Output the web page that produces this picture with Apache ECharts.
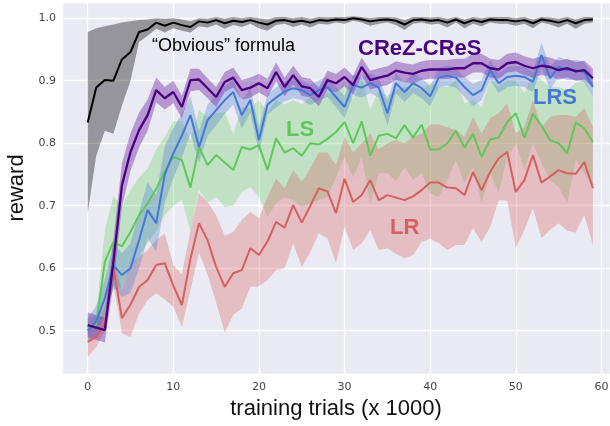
<!DOCTYPE html>
<html>
<head>
<meta charset="utf-8">
<script src="https://cdn.jsdelivr.net/npm/echarts@6/dist/echarts.min.js"></script>
<style>
  html, body { margin: 0; padding: 0; background: #fff; }
  #chart { width: 610px; height: 426px; }
</style>
</head>
<body>
<div id="chart"></div>
<script>
// x positions (training trials, x 1000)
const trials = [0,1,2,3,4,5,6,7,8,9,10,11,12,13,14,15,16,17,18,19,
  20,21,22,23,24,25,26,27,28,29,30,31,32,33,34,35,36,37,38,39,
  40,41,42,43,44,45,46,47,48,49,50,51,52,53,54,55,56,57,58,59];

// "Obvious" formula
const obvMean = [0.833,0.889,0.901,0.900,0.934,0.946,0.978,0.982,0.993,0.988,
  0.993,0.989,0.986,0.995,0.993,0.997,0.992,0.996,0.994,0.997,
  0.993,0.990,0.996,0.997,0.994,0.996,0.993,0.997,0.996,0.998,
  0.997,1.000,0.998,0.995,0.997,0.998,0.996,0.990,0.997,0.998,
  0.996,0.997,0.993,0.998,0.992,0.997,0.994,0.998,0.997,0.997,
  0.995,0.997,0.992,0.998,0.996,0.993,0.997,0.992,0.997,0.998];
const obvLow = [0.688,0.780,0.820,0.815,0.860,0.900,0.962,0.972,0.983,0.977,
  0.984,0.980,0.977,0.987,0.985,0.990,0.983,0.989,0.986,0.991,
  0.984,0.980,0.989,0.991,0.986,0.990,0.985,0.991,0.990,0.993,
  0.991,0.996,0.993,0.988,0.991,0.993,0.989,0.981,0.991,0.993,
  0.990,0.991,0.985,0.993,0.984,0.991,0.987,0.993,0.991,0.991,
  0.988,0.991,0.984,0.993,0.990,0.985,0.991,0.983,0.991,0.993];
const obvHigh = [0.978,0.984,0.987,0.990,0.993,0.995,0.997,0.998,1.000,0.999,
  1.000,0.998,0.995,1.000,0.999,1.002,0.999,1.002,1.000,1.002,
  1.000,0.998,1.002,1.002,1.000,1.002,0.999,1.002,1.001,1.002,
  1.002,1.003,1.002,1.000,1.002,1.002,1.001,0.997,1.002,1.002,
  1.001,1.002,0.999,1.002,0.998,1.002,1.000,1.002,1.002,1.002,
  1.000,1.002,0.998,1.002,1.001,0.999,1.002,0.998,1.002,1.002];

// CReZ-CReS
const crezMean = [0.509,0.505,0.501,0.610,0.733,0.786,0.821,0.845,0.885,0.872,
  0.882,0.858,0.901,0.902,0.888,0.874,0.898,0.905,0.885,0.889,
  0.896,0.888,0.914,0.890,0.909,0.891,0.888,0.874,0.901,0.896,
  0.906,0.893,0.922,0.901,0.905,0.908,0.916,0.913,0.911,0.916,
  0.918,0.918,0.918,0.920,0.920,0.928,0.928,0.920,0.918,0.928,
  0.930,0.924,0.920,0.924,0.922,0.917,0.920,0.915,0.917,0.904];
const crezLow = [0.489,0.485,0.481,0.575,0.698,0.756,0.793,0.820,0.865,0.854,
  0.864,0.840,0.883,0.885,0.872,0.858,0.882,0.889,0.869,0.873,
  0.881,0.873,0.899,0.875,0.894,0.876,0.873,0.859,0.886,0.881,
  0.891,0.878,0.907,0.886,0.890,0.893,0.901,0.898,0.896,0.901,
  0.903,0.903,0.903,0.905,0.905,0.913,0.913,0.905,0.903,0.913,
  0.915,0.909,0.905,0.909,0.907,0.902,0.905,0.900,0.902,0.889];
const crezHigh = [0.529,0.525,0.521,0.645,0.768,0.816,0.849,0.870,0.905,0.890,
  0.900,0.876,0.919,0.919,0.904,0.890,0.914,0.921,0.901,0.905,
  0.911,0.903,0.929,0.905,0.924,0.906,0.903,0.889,0.916,0.911,
  0.921,0.908,0.937,0.916,0.920,0.923,0.931,0.928,0.926,0.931,
  0.933,0.933,0.933,0.935,0.935,0.943,0.943,0.935,0.933,0.943,
  0.945,0.939,0.935,0.939,0.937,0.932,0.935,0.930,0.932,0.919];

// LRS
const lrsMean = [0.500,0.515,0.552,0.605,0.589,0.600,0.645,0.693,0.672,0.750,
  0.784,0.812,0.845,0.794,0.837,0.853,0.869,0.882,0.845,0.869,
  0.805,0.862,0.873,0.883,0.888,0.885,0.877,0.885,0.890,0.874,
  0.858,0.893,0.889,0.896,0.889,0.848,0.896,0.882,0.896,0.888,
  0.875,0.905,0.908,0.905,0.890,0.877,0.885,0.917,0.896,0.906,
  0.908,0.906,0.898,0.941,0.904,0.922,0.917,0.917,0.914,0.890];
const lrsLow = [0.480,0.490,0.522,0.570,0.554,0.560,0.600,0.648,0.627,0.705,
  0.744,0.777,0.815,0.769,0.812,0.828,0.847,0.862,0.823,0.849,
  0.785,0.846,0.857,0.867,0.872,0.869,0.861,0.869,0.874,0.858,
  0.840,0.877,0.873,0.880,0.873,0.828,0.880,0.866,0.880,0.872,
  0.859,0.889,0.892,0.889,0.874,0.859,0.869,0.901,0.880,0.890,
  0.892,0.890,0.882,0.921,0.886,0.906,0.901,0.901,0.898,0.874];
const lrsHigh = [0.520,0.540,0.582,0.640,0.624,0.640,0.690,0.738,0.717,0.795,
  0.824,0.847,0.875,0.819,0.862,0.878,0.891,0.902,0.867,0.889,
  0.825,0.878,0.889,0.899,0.904,0.901,0.893,0.901,0.906,0.890,
  0.876,0.909,0.905,0.912,0.905,0.868,0.912,0.898,0.912,0.904,
  0.891,0.921,0.924,0.921,0.906,0.895,0.901,0.933,0.912,0.922,
  0.924,0.922,0.914,0.961,0.922,0.938,0.933,0.933,0.930,0.906];

// LS
const lsMean = [0.504,0.509,0.610,0.642,0.635,0.658,0.685,0.704,0.727,0.755,
  0.778,0.773,0.729,0.794,0.765,0.781,0.769,0.757,0.794,0.790,
  0.797,0.757,0.808,0.785,0.792,0.780,0.800,0.798,0.807,0.818,
  0.834,0.800,0.835,0.780,0.812,0.815,0.808,0.829,0.809,0.830,
  0.790,0.790,0.800,0.820,0.793,0.815,0.778,0.806,0.809,0.834,
  0.848,0.809,0.847,0.828,0.805,0.800,0.784,0.833,0.824,0.802];
const lsLow = [0.495,0.500,0.525,0.565,0.570,0.600,0.620,0.640,0.660,0.685,
  0.700,0.710,0.660,0.725,0.705,0.714,0.698,0.700,0.722,0.730,
  0.714,0.682,0.704,0.714,0.709,0.698,0.704,0.709,0.714,0.745,
  0.778,0.745,0.778,0.704,0.752,0.752,0.740,0.762,0.741,0.752,
  0.720,0.714,0.741,0.773,0.736,0.762,0.704,0.752,0.722,0.778,
  0.800,0.757,0.800,0.768,0.741,0.730,0.704,0.773,0.752,0.730];
const lsHigh = [0.518,0.525,0.660,0.715,0.700,0.725,0.745,0.760,0.790,0.810,
  0.835,0.835,0.805,0.853,0.842,0.848,0.850,0.815,0.858,0.855,
  0.869,0.850,0.869,0.862,0.869,0.862,0.874,0.869,0.880,0.880,
  0.900,0.870,0.905,0.853,0.885,0.875,0.885,0.890,0.890,0.885,
  0.896,0.890,0.890,0.901,0.864,0.869,0.858,0.901,0.890,0.901,
  0.900,0.880,0.912,0.901,0.890,0.890,0.885,0.896,0.901,0.874];

// LR
const lrMean = [0.482,0.490,0.512,0.601,0.520,0.542,0.570,0.581,0.605,0.608,
  0.572,0.541,0.615,0.672,0.645,0.602,0.570,0.592,0.597,0.632,
  0.621,0.643,0.674,0.665,0.701,0.673,0.700,0.728,0.723,0.688,
  0.743,0.706,0.717,0.741,0.709,0.717,0.713,0.709,0.715,0.725,
  0.737,0.737,0.729,0.728,0.717,0.754,0.725,0.754,0.776,0.786,
  0.722,0.741,0.781,0.737,0.747,0.757,0.752,0.751,0.770,0.728];
const lrLow = [0.458,0.474,0.500,0.575,0.496,0.490,0.528,0.549,0.560,0.550,
  0.538,0.506,0.565,0.625,0.590,0.545,0.497,0.525,0.536,0.570,
  0.571,0.581,0.597,0.600,0.640,0.602,0.626,0.656,0.648,0.608,
  0.666,0.629,0.640,0.661,0.629,0.632,0.623,0.616,0.621,0.642,
  0.647,0.640,0.629,0.637,0.637,0.664,0.642,0.666,0.709,0.708,
  0.632,0.661,0.696,0.648,0.661,0.672,0.660,0.657,0.685,0.637];
const lrHigh = [0.500,0.510,0.540,0.615,0.565,0.608,0.618,0.629,0.645,0.655,
  0.605,0.590,0.660,0.720,0.706,0.685,0.652,0.658,0.677,0.690,
  0.680,0.714,0.744,0.728,0.757,0.738,0.760,0.785,0.785,0.765,
  0.810,0.785,0.800,0.815,0.790,0.800,0.805,0.800,0.810,0.815,
  0.830,0.830,0.826,0.821,0.810,0.842,0.816,0.840,0.848,0.864,
  0.816,0.826,0.869,0.826,0.842,0.845,0.845,0.842,0.856,0.826];

const yTicks = [0.5, 0.6, 0.7, 0.8, 0.9, 1.0];

function pairs(arr) {
  return arr.map((v, i) => [trials[i], v]);
}

// shaded spread drawn as one polygon through the axis scales
function band(lo, hi, fill) {
  return {
    type: 'custom',
    silent: true,
    z: 1,
    data: [[trials[0], lo[0]]],
    encode: { x: 0, y: 1 },
    renderItem: function (params, api) {
      const pts = [];
      for (let i = 0; i < trials.length; i++) pts.push(api.coord([trials[i], hi[i]]));
      for (let i = trials.length - 1; i >= 0; i--) pts.push(api.coord([trials[i], lo[i]]));
      return { type: 'polygon', shape: { points: pts }, style: { fill: fill } };
    }
  };
}

function line(arr, color, width) {
  return {
    type: 'line',
    data: pairs(arr),
    symbol: 'none',
    z: 3,
    lineStyle: { color: color, width: width },
    itemStyle: { color: color }
  };
}

const chart = echarts.init(document.getElementById('chart'));
chart.setOption({
  animation: false,
  grid: {
    left: 62, right: 0, top: 2, bottom: 52,
    outerBoundsMode: 'none',
    containLabel: false,
    show: true, backgroundColor: '#EAEAF2', borderWidth: 0
  },
  xAxis: {
    type: 'value',
    min: -3, max: 61, splitNumber: 6,
    name: 'training trials (x 1000)',
    nameLocation: 'middle',
    nameGap: 24,
    nameTextStyle: { fontSize: 22, color: '#111', fontFamily: 'Liberation Sans' },
    axisLine: { show: false },
    axisTick: { show: false },
    axisLabel: {
      showMinLabel: false, showMaxLabel: false,
      margin: 8, fontSize: 11, color: '#444', fontFamily: 'DejaVu Sans',
      formatter: v => (v % 10 === 0 ? String(v) : '')
    },
    splitLine: { show: true, lineStyle: { color: '#fff', width: 1.3 } }
  },
  yAxis: {
    type: 'value',
    min: 0.4307, max: 1.026, splitNumber: 6,
    name: 'reward',
    nameLocation: 'middle',
    nameGap: 29,
    nameTextStyle: { fontSize: 22, color: '#111', fontFamily: 'Liberation Sans' },
    axisLine: { show: false },
    axisTick: { show: false },
    axisLabel: {
      showMinLabel: false, showMaxLabel: false,
      margin: 6, fontSize: 11, color: '#444', fontFamily: 'DejaVu Sans',
      formatter: v => (yTicks.some(t => Math.abs(t - v) < 1e-6) ? v.toFixed(1) : '')
    },
    splitLine: { show: true, lineStyle: { color: '#fff', width: 1.3 } }
  },
  series: [
    band(lsLow, lsHigh, 'rgba(106,204,100,0.32)'),
    band(lrLow, lrHigh, 'rgba(214,95,95,0.32)'),
    band(lrsLow, lrsHigh, 'rgba(72,120,208,0.32)'),
    band(crezLow, crezHigh, 'rgba(120,50,170,0.45)'),
    band(obvLow, obvHigh, 'rgba(0,0,0,0.36)'),
    line(lrMean, '#d65f5f', 2),
    line(lsMean, '#5fc85a', 2),
    line(lrsMean, '#4477d6', 2),
    line(crezMean, '#4b0082', 2.3),
    line(obvMean, '#000000', 2)
  ],
  graphic: [
    { type: 'text', left: 152, top: 37, z: 10,
      style: { text: '\u201cObvious\u201d formula', fontSize: 18, fill: '#000', fontFamily: 'Liberation Sans' } },
    { type: 'text', left: 358, top: 38, z: 10,
      style: { text: 'CReZ-CReS', fontSize: 22, fontWeight: 'bold', fill: '#4b0082', fontFamily: 'Liberation Sans' } },
    { type: 'text', left: 533, top: 87, z: 10,
      style: { text: 'LRS', fontSize: 22, fontWeight: 'bold', fill: '#4477d6', fontFamily: 'Liberation Sans' } },
    { type: 'text', left: 286, top: 119, z: 10,
      style: { text: 'LS', fontSize: 22, fontWeight: 'bold', fill: '#5fc85a', fontFamily: 'Liberation Sans' } },
    { type: 'text', left: 390, top: 217, z: 10,
      style: { text: 'LR', fontSize: 22, fontWeight: 'bold', fill: '#d65f5f', fontFamily: 'Liberation Sans' } }
  ]
});
</script>
</body>
</html>
